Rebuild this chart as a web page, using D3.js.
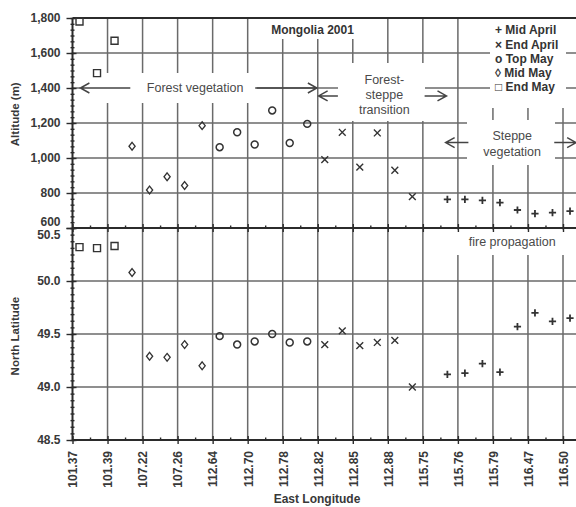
<!DOCTYPE html>
<html>
<head>
<meta charset="utf-8">
<script src="https://cdn.jsdelivr.net/npm/d3@7"></script>
<style>
  html, body { margin: 0; padding: 0; background: #fff; }
  svg { display: block; font-family: "Liberation Sans", Arial, sans-serif; }
</style>
</head>
<body>
<svg id="chart" width="576" height="507"></svg>
<script>
// Longitude labels along the transect (one label per two samples)
const longitudeLabels = ["101.37", "101.39", "107.22", "107.26", "112.64", "112.70", "112.78",
  "112.82", "112.85", "112.88", "115.75", "115.76", "115.79", "116.47", "116.50"];

const seriesNames = ["Mid April", "End April", "Top May", "Mid May", "End May"];
const seriesSymbols = ["+", "\u00d7", "o", "\u25ca", "\u25a1"];

// Sample index along the transect, altitude (m) and north latitude per fire period
const endMayIdx = [0, 1, 2];
const endMayAlt = [1780, 1485, 1670];
const endMayLat = [50.32, 50.31, 50.33];

const midMayIdx = [3, 4, 5, 6, 7];
const midMayAlt = [1067, 817, 893, 843, 1185];
const midMayLat = [50.08, 49.29, 49.28, 49.40, 49.20];

const topMayIdx = [8, 9, 10, 11, 12, 13];
const topMayAlt = [1062, 1147, 1077, 1272, 1086, 1195];
const topMayLat = [49.48, 49.40, 49.43, 49.50, 49.42, 49.43];

const endAprilIdx = [14, 15, 16, 17, 18, 19];
const endAprilAlt = [991, 1147, 948, 1143, 930, 779];
const endAprilLat = [49.40, 49.53, 49.39, 49.42, 49.44, 49.00];

const midAprilIdx = [21, 22, 23, 24, 25, 26, 27, 28];
const midAprilAlt = [764, 764, 758, 745, 703, 682, 688, 697];
const midAprilLat = [49.12, 49.13, 49.22, 49.14, 49.57, 49.70, 49.62, 49.65];

const altTicks = [600, 800, 1000, 1200, 1400, 1600, 1800];
const latTicks = [48.5, 49.0, 49.5, 50.0, 50.5];

const series = [
  { marker: "plus",    idx: midAprilIdx, alt: midAprilAlt, lat: midAprilLat },
  { marker: "cross",   idx: endAprilIdx, alt: endAprilAlt, lat: endAprilLat },
  { marker: "circle",  idx: topMayIdx,   alt: topMayAlt,   lat: topMayLat },
  { marker: "diamond", idx: midMayIdx,   alt: midMayAlt,   lat: midMayLat },
  { marker: "square",  idx: endMayIdx,   alt: endMayAlt,   lat: endMayLat }
];

const svg = d3.select("#chart");
const plotLeft = 72.5, plotRight = 576;
const ink = "#2b2b2b", gridCol = "#6a6a6a", textCol = "#383838";

const x = d3.scaleLinear().domain([0, 28]).range([plotLeft, 563]);
const yAlt = d3.scaleLinear().domain([600, 1800]).range([228, 18]);
const yLat = d3.scaleLinear().domain([48.5, 50.5]).range([440, 228]);
const offset = 0.4; // samples sit just right of their label line

// ---- gridlines ----
const grid = svg.append("g").attr("stroke", gridCol).attr("stroke-width", 1.5);
grid.selectAll("line.v").data(d3.range(2, 29, 2)).join("line")
  .attr("x1", d => x(d)).attr("x2", d => x(d))
  .attr("y1", yAlt(1800)).attr("y2", yLat(48.5));
grid.selectAll("line.ha").data(altTicks.slice(1, -1)).join("line")
  .attr("x1", plotLeft).attr("x2", plotRight)
  .attr("y1", d => yAlt(d)).attr("y2", d => yAlt(d));
grid.selectAll("line.hl").data(latTicks.slice(1, -1)).join("line")
  .attr("x1", plotLeft).attr("x2", plotRight)
  .attr("y1", d => yLat(d)).attr("y2", d => yLat(d));

// ---- white boxes behind annotations ----
const boxes = [
  [262, 19, 362, 39],    // title
  [490, 19, 566, 108],   // legend
  [80, 73, 255, 103],    // forest vegetation
  [338, 63, 425, 121],   // forest-steppe
  [467, 120, 555, 165],  // steppe
  [440, 229.5, 576, 255] // fire propagation
];
svg.append("g").selectAll("rect").data(boxes).join("rect")
  .attr("x", d => d[0]).attr("y", d => d[1])
  .attr("width", d => d[2] - d[0]).attr("height", d => d[3] - d[1])
  .attr("fill", "#fff");

// ---- axes ----
function styleAxis(g) {
  g.select(".domain").remove();
  g.selectAll("line").attr("stroke", ink).attr("stroke-width", 1.4);
  g.selectAll("text").attr("fill", textCol).attr("font-size", 12).attr("font-weight", "bold");
}
const minorAlt = d3.range(600, 1800.1, 200 / 6);
const minorLat = d3.range(48.5, 50.501, 0.5 / 8);

// altitude axis
const gAlt = svg.append("g").attr("transform", `translate(${plotLeft},0)`)
  .call(d3.axisLeft(yAlt).tickValues(altTicks).tickFormat(d3.format(",")).tickSize(6).tickPadding(6))
  .call(styleAxis);
gAlt.selectAll(".tick text").filter(d => d === 600).attr("dy", "-0.2em");
svg.append("g").attr("transform", `translate(${plotLeft},0)`)
  .call(d3.axisRight(yAlt).tickValues(altTicks).tickSize(4).tickFormat(""))
  .call(styleAxis);
svg.append("g").attr("transform", `translate(${plotLeft - 2},0)`)
  .call(d3.axisRight(yAlt).tickValues(minorAlt).tickSize(4).tickFormat(""))
  .call(styleAxis);

// latitude axis
const gLat = svg.append("g").attr("transform", `translate(${plotLeft},0)`)
  .call(d3.axisLeft(yLat).tickValues(latTicks).tickFormat(d3.format(".1f")).tickSize(6).tickPadding(6))
  .call(styleAxis);
gLat.selectAll(".tick text").filter(d => d === 50.5).attr("dy", "0.85em");
svg.append("g").attr("transform", `translate(${plotLeft},0)`)
  .call(d3.axisRight(yLat).tickValues(latTicks).tickSize(4).tickFormat(""))
  .call(styleAxis);
svg.append("g").attr("transform", `translate(${plotLeft - 2},0)`)
  .call(d3.axisRight(yLat).tickValues(minorLat).tickSize(4).tickFormat(""))
  .call(styleAxis);

// longitude axis (bottom) and the shared panel border
const majorX = d3.range(0, 29, 2), minorX = d3.range(1, 29, 2);
const gX = svg.append("g").attr("transform", `translate(0,${yLat(48.5)})`)
  .call(d3.axisBottom(x).tickValues(majorX).tickFormat(d => longitudeLabels[d / 2]).tickSize(4))
  .call(styleAxis);
gX.selectAll(".tick text")
  .attr("transform", "rotate(-90)").attr("text-anchor", "end")
  .attr("x", -11).attr("y", 0).attr("dy", "0.36em");
[yLat(48.5), yAlt(600)].forEach((yy, i) => {
  svg.append("g").attr("transform", `translate(0,${yy})`)
    .call(d3.axisTop(x).tickValues(majorX).tickSize(4).tickFormat("")).call(styleAxis);
  if (i === 1) svg.append("g").attr("transform", `translate(0,${yy})`)
    .call(d3.axisBottom(x).tickValues(majorX).tickSize(4).tickFormat("")).call(styleAxis);
  svg.append("g").attr("transform", `translate(0,${yy})`)
    .call(d3.axisTop(x).tickValues(minorX).tickSize(2.5).tickFormat("")).call(styleAxis);
});

// frame lines
const frame = svg.append("g").attr("stroke", ink).attr("stroke-width", 2);
frame.append("line").attr("x1", plotLeft).attr("x2", plotLeft).attr("y1", yAlt(1800)).attr("y2", yLat(48.5));
[yAlt(1800), yAlt(600), yLat(48.5)].forEach(yy =>
  frame.append("line").attr("x1", plotLeft).attr("x2", plotRight).attr("y1", yy).attr("y2", yy));

// ---- axis titles ----
svg.append("text").attr("transform", `translate(19,${yAlt(1250)}) rotate(-90)`)
  .attr("text-anchor", "middle").attr("font-size", 11.5).attr("font-weight", "bold").attr("fill", textCol)
  .text("Altitude (m)");
svg.append("text").attr("transform", `translate(19,${yLat(49.48)}) rotate(-90)`)
  .attr("text-anchor", "middle").attr("font-size", 11.5).attr("font-weight", "bold").attr("fill", textCol)
  .text("North Latitude");
svg.append("text").attr("x", 317).attr("y", 503)
  .attr("text-anchor", "middle").attr("font-size", 12).attr("font-weight", "bold").attr("fill", textCol)
  .text("East Longitude");

// ---- annotations ----
function label(lines, cx, cy, opts = {}) {
  const t = svg.append("text").attr("text-anchor", "middle")
    .attr("font-size", opts.size || 12.5).attr("font-weight", opts.weight || "normal")
    .attr("fill", opts.fill || "#4a4a4a");
  const lh = opts.lh || 15;
  lines.forEach((s, i) => t.append("tspan").attr("x", cx)
    .attr("y", cy + (i - (lines.length - 1) / 2) * lh).attr("dy", "0.35em").text(s));
}
function arrow(x1, x2, yy) {
  const dir = Math.sign(x2 - x1);
  svg.append("path")
    .attr("d", `M${x1},${yy}H${x2}M${x2 - dir * 9},${yy - 5}L${x2},${yy}L${x2 - dir * 9},${yy + 5}`)
    .attr("fill", "none").attr("stroke", "#444").attr("stroke-width", 1.5);
}

label(["Mongolia 2001"], x(13.7), 30, { size: 12, weight: "bold", fill: "#333" });
label(["Forest vegetation"], x(7.0), yAlt(1400), {});
arrow(x(3.3), x(0.45), yAlt(1400));
arrow(x(10.5), x(13.95), yAlt(1400));
label(["Forest-", "steppe", "transition"], x(17.8), 95, {});
arrow(x(15.15), x(14.05), yAlt(1355));
arrow(x(20.1), x(21.35), yAlt(1355));
label(["Steppe", "vegetation"], x(25.1), 144, { lh: 16 });
arrow(x(22.6), x(21.3), yAlt(1088));
arrow(x(27.5), x(28.75), yAlt(1088));
label(["fire propagation"], x(25.1), 242, {});

// legend
const lg = svg.append("g").attr("font-size", 12).attr("font-weight", "bold").attr("fill", "#333");
seriesNames.forEach((name, i) => {
  lg.append("text").attr("x", 495).attr("y", 30 + i * 14.3).attr("dy", "0.35em")
    .text(seriesSymbols[i] + " " + name);
});

// ---- markers ----
const markerPath = {
  plus: "M-3.6,0H3.6M0,-3.6V3.6",
  cross: "M-3.4,-3.4L3.4,3.4M-3.4,3.4L3.4,-3.4",
  circle: d3.symbol(d3.symbolCircle, 38)(),
  diamond: "M0,-3.9L3.1,0L0,3.9L-3.1,0Z",
  square: "M-3.5,-3.5H3.5V3.5H-3.5Z"
};
const strokeW = { plus: 1.8, cross: 1.4, circle: 1.5, diamond: 1.3, square: 1.4 };

series.forEach(s => {
  const pts = s.idx.map((k, j) => ({ k, alt: s.alt[j], lat: s.lat[j] }));
  [["alt", yAlt], ["lat", yLat]].forEach(([key, yScale]) => {
    svg.append("g").selectAll("path").data(pts).join("path")
      .attr("transform", d => `translate(${x(d.k + offset)},${yScale(d[key])})`)
      .attr("d", markerPath[s.marker])
      .attr("fill", "none").attr("stroke", "#333").attr("stroke-width", strokeW[s.marker]);
  });
});
</script>
</body>
</html>
